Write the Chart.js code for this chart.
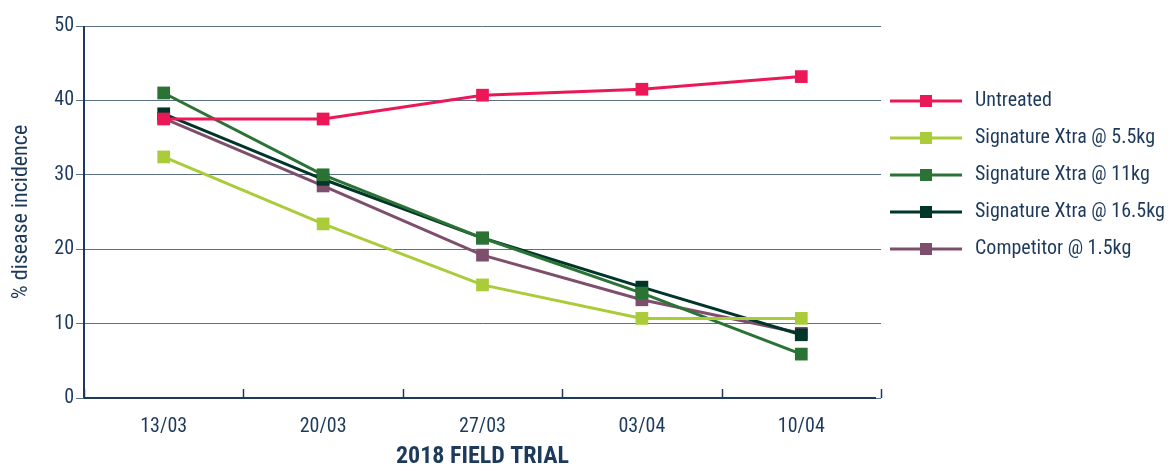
<!DOCTYPE html>
<html>
<head>
<meta charset="utf-8">
<script src="https://cdn.jsdelivr.net/npm/chart.js@4"></script>
<style>
  html, body { margin: 0; padding: 0; background: #fff; }
  #wrap { width: 1172px; height: 471px; position: relative; }
</style>
</head>
<body>
<div id="wrap"><canvas id="chart"></canvas></div>
<script>
// data
const dates = ['13/03', '20/03', '27/03', '03/04', '10/04'];
const seriesNames = ['Untreated', 'Signature Xtra @ 5.5kg', 'Signature Xtra @ 11kg', 'Signature Xtra @ 16.5kg', 'Competitor @ 1.5kg'];
const untreated = [37.5, 37.5, 40.7, 41.5, 43.2];
const xtra55 = [32.4, 23.4, 15.2, 10.7, 10.7];
const xtra11 = [41.0, 30.0, 21.5, 14.1, 5.9];
const xtra165 = [38.2, 29.4, 21.5, 14.9, 8.5];
const competitor = [37.6, 28.5, 19.2, 13.2, 8.7];
const yTicks = [0, 10, 20, 30, 40, 50];

const navy = '#1d3a5c';
const gridCol = '#5b6f86';
const font = "'Roboto Condensed', Roboto, sans-serif";
const palette = ['#ec1757', '#a9cc38', '#2a7334', '#00352a', '#7e4f6c'];

function series(i, data) {
    return {
        label: seriesNames[i],
        data: data,
        borderColor: palette[i],
        backgroundColor: palette[i],
        borderWidth: 3,
        pointStyle: 'rect',
        pointRadius: 9,
        pointHoverRadius: 9,
        pointBorderWidth: 0,
        tension: 0
    };
}

// legend on the right: line with a square in the middle
const sideLegend = {
    id: 'sideLegend',
    afterDraw(chart) {
        const ctx = chart.ctx;
        const x0 = 890, x1 = 962, yStart = 101, step = 37;
        ctx.save();
        chart.data.datasets.forEach((ds, i) => {
            const y = yStart + i * step;
            ctx.strokeStyle = ds.borderColor;
            ctx.lineWidth = 3;
            ctx.beginPath();
            ctx.moveTo(x0, y);
            ctx.lineTo(x1, y);
            ctx.stroke();
            ctx.fillStyle = ds.borderColor;
            ctx.fillRect((x0 + x1) / 2 - 6, y - 6, 12, 12);
            ctx.fillStyle = navy;
            ctx.font = '20px ' + font;
            ctx.textBaseline = 'middle';
            ctx.textAlign = 'left';
            ctx.fillText(ds.label, 975, y);
        });
        ctx.restore();
    }
};

// short upward ticks between the categories on the x axis
const xTickMarks = {
    id: 'xTickMarks',
    afterDatasetsDraw(chart) {
        const xs = chart.scales.x;
        const area = chart.chartArea;
        const ctx = chart.ctx;
        const half = (xs.getPixelForValue(1) - xs.getPixelForValue(0)) / 2;
        ctx.save();
        ctx.strokeStyle = navy;
        ctx.lineWidth = 1.5;
        for (let i = 0; i <= dates.length; i++) {
            const x = Math.round(xs.getPixelForValue(i) - half) + 0.5;
            ctx.beginPath();
            ctx.moveTo(x, area.bottom);
            ctx.lineTo(x, area.bottom - 9);
            ctx.stroke();
        }
        // the axis line itself
        ctx.lineWidth = 2;
        ctx.beginPath();
        ctx.moveTo(area.left, area.bottom);
        ctx.lineTo(area.right - 5, area.bottom);
        ctx.stroke();
        ctx.beginPath();
        ctx.moveTo(area.left, area.top);
        ctx.lineTo(area.left, area.bottom);
        ctx.stroke();
        ctx.restore();
    }
};

new Chart(document.getElementById('chart'), {
    type: 'line',
    data: {
        labels: dates,
        datasets: [
            series(0, untreated),
            series(1, xtra55),
            series(2, xtra11),
            series(3, xtra165),
            series(4, competitor)
        ]
    },
    options: {
        responsive: true,
        maintainAspectRatio: false,
        animation: false,
        layout: { padding: { left: 8, right: 291, top: 26, bottom: 0 } },
        plugins: {
            legend: { display: false },
            tooltip: { enabled: false }
        },
        scales: {
            x: {
                offset: true,
                grid: { display: false },
                border: { display: false },
                ticks: { color: navy, font: { size: 20, family: font }, padding: 9 },
                title: {
                    display: true,
                    text: '2018 FIELD TRIAL',
                    color: navy,
                    font: { size: 24, weight: 'bold', family: font },
                    padding: { top: 2, bottom: 0 }
                },
                afterFit(scale) { scale.height = 73; }
            },
            y: {
                min: 0,
                max: 50,
                afterBuildTicks(scale) { scale.ticks = yTicks.map(v => ({ value: v })); },
                grid: { color: gridCol, lineWidth: 1, tickLength: 8 },
                border: { display: false },
                ticks: { color: navy, font: { size: 20, family: font }, padding: 2 },
                title: {
                    display: true,
                    text: '% disease incidence',
                    color: navy,
                    font: { size: 22, family: font },
                    padding: { top: 0, bottom: 2 }
                },
                afterFit(scale) { scale.width = 76; }
            }
        }
    },
    plugins: [xTickMarks, sideLegend]
});
</script>
</body>
</html>
